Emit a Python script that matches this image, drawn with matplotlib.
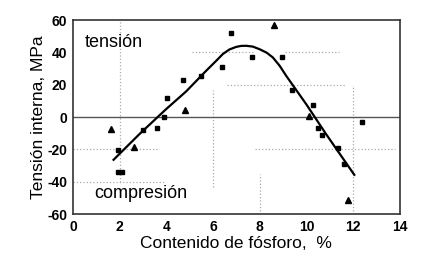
import matplotlib
matplotlib.use("Agg")
import matplotlib.pyplot as plt

plt.rcParams['font.family'] = ['Liberation Sans', 'DejaVu Sans']
plt.rcParams['axes.unicode_minus'] = False

# Data
sq_x = [1.93, 1.95, 2.1, 3.01, 3.61, 3.9, 4.01, 4.71, 5.47, 6.38, 6.79, 7.66,
        8.96, 9.38, 10.29, 10.5, 10.67, 11.37, 11.6, 12.38]
sq_y = [-20.4, -34, -34, -7.8, -6.6, -0.2, 11.5, 22.7, 25.2, 30.7, 52, 36.9,
        36.9, 16.7, 7.2, -7, -11.3, -19.2, -29, -2.9]
tri_x = [1.61, 2.6, 4.81, 8.59, 10.09, 11.8]
tri_y = [-7.4, -18.4, 4.3, 56.9, 0.8, -51.3]

# fitted curve, traced by eye
fit_x = [1.74, 2.85, 3.99, 4.85, 5.71, 6.15, 6.42, 6.7, 6.99, 7.2, 7.42, 7.7,
         7.99, 8.3, 8.56, 8.85, 9.13, 9.99, 10.84, 12.05]
fit_y = [-26.4, -10.5, 4.9, 15.9, 28.7, 35.0, 39.0, 41.8, 43.4, 44.0, 44.1, 43.6,
         42.0, 39.8, 36.9, 31.8, 25.6, 8.0, -10.5, -35.7]

xticks = [0, 2, 4, 6, 8, 10, 12, 14]
yticks = [-60, -40, -20, 0, 20, 40, 60]

fig = plt.figure(figsize=(4.29, 2.64), dpi=100)
ax = fig.add_axes([0.170, 0.189, 0.762, 0.735])

# faint partial dotted grid, like the scanned original
dot = dict(color='#aaaaaa', linestyle=':', linewidth=0.9)
ax.hlines(40, 5.1, 7.7, **dot)
ax.hlines(40, 9.1, 11.4, **dot)
ax.hlines(20, 6.6, 11.7, **dot)
ax.hlines(-20, 0, 3.6, **dot)
ax.hlines(-20, 7.8, 13.8, **dot)
ax.hlines(-40, 0, 3.9, **dot)
ax.vlines(2, -40, 60, **dot)
ax.vlines(6, -43, 17, **dot)
ax.vlines(8, -58, -35, **dot)
ax.vlines(12, -58, 20, **dot)
ax.axhline(0, color='#555555', linewidth=1.0)

ax.plot(fit_x, fit_y, color='black', linewidth=1.6)
ax.plot(sq_x, sq_y, 's', color='black', markersize=3.5)
ax.plot(tri_x, tri_y, '^', color='black', markersize=4)

ax.text(0.5, 46, 'tensión', fontsize=13, va='center')
ax.text(0.93, -47.5, 'compresión', fontsize=13, va='center')

ax.set_xlim(0, 14)
ax.set_ylim(-60, 60)
ax.set_xticks(xticks)
ax.set_yticks(yticks)
ax.tick_params(length=0, pad=4, labelsize=10)
for lab in ax.get_xticklabels() + ax.get_yticklabels():
    lab.set_fontweight('bold')
for s in ax.spines.values():
    s.set_color('#333333')
    s.set_linewidth(1.2)

ax.set_xlabel('Contenido de fósforo,  %', fontsize=12.5, labelpad=2)
ax.set_ylabel('Tensión interna, MPa', fontsize=12.5, labelpad=1)

fig.savefig('out.png', dpi=100)
